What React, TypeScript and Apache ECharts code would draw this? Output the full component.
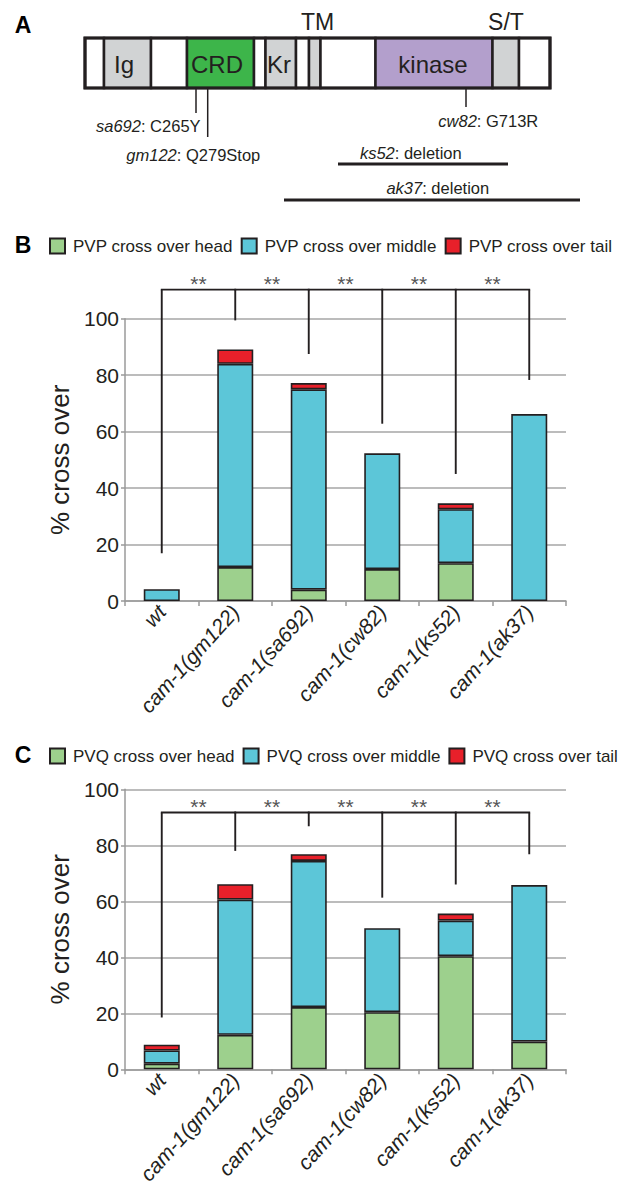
import React, { useEffect, useRef } from "react";
import * as echarts from "echarts";

// ---------- data ----------
const categories = ["wt", "cam-1(gm122)", "cam-1(sa692)", "cam-1(cw82)", "cam-1(ks52)", "cam-1(ak37)"];
const yTickInterval = 20;

const pvpHead = [0, 12, 4, 11.3, 13.4, 0];
const pvpMiddle = [4.2, 72, 71, 41, 19.1, 66.2];
const pvpTail = [0, 5.1, 2.2, 0, 2.1, 0];
const pvpN = [48, 61, 49, 61, 56, 56];
const pvpBracketDrop = [16.9, 99.4, 87.5, 62.8, 45, 78.3];
const pvpBracketTop = 110.3;

const pvqHead = [2, 12.3, 22.2, 20.4, 40.4, 9.9];
const pvqMiddle = [4.7, 48.3, 52.2, 30, 12.7, 55.9];
const pvqTail = [2.1, 5.5, 2.4, 0, 2.5, 0];
const pvqN = [43, 61, 46, 67, 55, 49];
const pvqBracketDrop = [18.5, 78, 86.8, 61.3, 66, 76.8];
const pvqBracketTop = 91.7;

const significance = ["**", "**", "**", "**", "**"];

const pvpNames = ["PVP cross over head", "PVP cross over middle", "PVP cross over tail"];
const pvqNames = ["PVQ cross over head", "PVQ cross over middle", "PVQ cross over tail"];

// protein domain diagram (panel A)
const domainLabels = ["", "Ig", "", "CRD", "", "Kr", "", "", "", "kinase", "", ""];
const domainKinds = ["none", "gray", "none", "crd", "none", "gray", "none", "gray", "none", "kinase", "gray", "none"];
const pointMutations = [
  { allele: "sa692", change: "C265Y" },
  { allele: "gm122", change: "Q279Stop" },
  { allele: "cw82", change: "G713R" },
];
const deletions = [
  { allele: "ks52", change: "deletion" },
  { allele: "ak37", change: "deletion" },
];

// ---------- styles / layout ----------
const FONT = "'Liberation Sans', Arial, Helvetica, sans-serif";
const INK = "#231f20";
const C_HEAD = "#9dd08d";
const C_MID = "#5cc6d8";
const C_TAIL = "#e8202a";
const GRID_GRAY = "#a6a6a6";
const AXIS_GRAY = "#9a9a9a";
const kindFill: Record<string, string> = {
  none: "#ffffff",
  gray: "#d1d3d4",
  crd: "#3db54a",
  kinase: "#b39fcc",
};
const domainEdges = [85, 104, 151, 187, 254, 265.5, 296, 309, 320.5, 375.5, 492.5, 519, 550];
const domainLabelX = [0, 124, 0, 217, 0, 279, 0, 0, 0, 433, 0, 0];
const boxTop = 38;
const boxBottom = 88;
const mutationLayout = [
  { x: 196, yEnd: 113, tx: 148.3, ty: 126 },
  { x: 207.7, yEnd: 137, tx: 193.3, ty: 154.5 },
  { x: 466, yEnd: 107, tx: 488.3, ty: 120.8 },
];
const deletionLayout = [
  { x1: 338, x2: 508, y: 164, tx: 410.8, ty: 153 },
  { x1: 284, x2: 580, y: 200, tx: 437.8, ty: 188 },
];

function sum3(a: number[], b: number[], c: number[]) {
  return a.map((v, i) => v + b[i] + c[i]);
}
const nz = (arr: number[]) => arr.map((v) => (v === 0 ? null : v));

function buildPanelGraphic() {
  const els: any[] = [];
  for (let i = 0; i < domainEdges.length - 1; i++) {
    els.push({
      type: "rect",
      shape: { x: domainEdges[i], y: boxTop, width: domainEdges[i + 1] - domainEdges[i], height: boxBottom - boxTop },
      style: { fill: kindFill[domainKinds[i]], stroke: INK, lineWidth: 2.5 },
    });
    if (domainLabels[i]) {
      els.push({
        type: "text",
        style: {
          text: domainLabels[i],
          x: domainLabelX[i],
          y: (boxTop + boxBottom) / 2 + 1,
          align: "center",
          verticalAlign: "middle",
          fontSize: 24,
          fontFamily: FONT,
          fill: INK,
        },
      });
    }
  }
  els.push({
    type: "rect",
    shape: { x: domainEdges[0], y: boxTop, width: domainEdges[domainEdges.length - 1] - domainEdges[0], height: boxBottom - boxTop },
    style: { fill: "none", stroke: INK, lineWidth: 3.2 },
  });
  els.push({ type: "text", style: { text: "TM", x: 317.5, y: 22, align: "center", verticalAlign: "middle", fontSize: 23, fontFamily: FONT, fill: INK } });
  els.push({ type: "text", style: { text: "S/T", x: 506, y: 22, align: "center", verticalAlign: "middle", fontSize: 23, fontFamily: FONT, fill: INK } });
  const letter = (t: string, y: number) => ({
    type: "text",
    style: { text: t, x: 23, y, align: "center", verticalAlign: "middle", fontSize: 23, fontWeight: "bold", fontFamily: FONT, fill: "#000" },
  });
  els.push(letter("A", 25));
  els.push(letter("B", 245));
  els.push(letter("C", 755));

  const rich = {
    i: { fontStyle: "italic", fontSize: 16.5, fontFamily: FONT, fill: INK },
    n: { fontSize: 16.5, fontFamily: FONT, fill: INK },
  };
  pointMutations.forEach((m, k) => {
    const L = mutationLayout[k];
    els.push({ type: "line", shape: { x1: L.x, y1: boxBottom, x2: L.x, y2: L.yEnd }, style: { stroke: INK, lineWidth: 1.5 } });
    els.push({
      type: "text",
      style: { text: `{i|${m.allele}}{n|: ${m.change}}`, rich, x: L.tx, y: L.ty, align: "center", verticalAlign: "middle", fontSize: 16.5, fontFamily: FONT },
    });
  });
  deletions.forEach((d, k) => {
    const L = deletionLayout[k];
    els.push({ type: "line", shape: { x1: L.x1, y1: L.y, x2: L.x2, y2: L.y }, style: { stroke: INK, lineWidth: 3 } });
    els.push({
      type: "text",
      style: { text: `{i|${d.allele}}{n|: ${d.change}}`, rich, x: L.tx, y: L.ty, align: "center", verticalAlign: "middle", fontSize: 16.5, fontFamily: FONT },
    });
  });
  return els;
}

function bracketSeries(idx: number, drops: number[], top: number) {
  return {
    type: "custom",
    xAxisIndex: idx,
    yAxisIndex: idx,
    silent: true,
    clip: false,
    z: 5,
    data: drops.map((d, i) => [i, d]),
    renderItem: (params: any, api: any) => {
      const i = params.dataIndex;
      const p0 = api.coord([i, top]);
      const p1 = api.coord([i, api.value(1)]);
      const children: any[] = [
        { type: "line", shape: { x1: p0[0], y1: p0[1], x2: p1[0], y2: p1[1] }, style: { stroke: INK, lineWidth: 1.9 } },
      ];
      if (i < drops.length - 1) {
        const q = api.coord([i + 1, top]);
        children.push({ type: "line", shape: { x1: p0[0] - 0.9, y1: p0[1], x2: q[0] + 0.9, y2: q[1] }, style: { stroke: INK, lineWidth: 1.9 } });
        children.push({
          type: "text",
          style: {
            text: significance[i],
            x: (p0[0] + q[0]) / 2,
            y: p0[1] - 6.5,
            align: "center",
            verticalAlign: "middle",
            fontSize: 21,
            fontFamily: FONT,
            fill: "#555555",
          },
        });
      }
      return { type: "group", children };
    },
  };
}

function barSeries(idx: number, names: string[], head: number[], mid: number[], tail: number[]) {
  const cols = [C_HEAD, C_MID, C_TAIL];
  return [head, mid, tail].map((arr, k) => ({
    name: names[k],
    type: "bar",
    stack: "s" + idx,
    xAxisIndex: idx,
    yAxisIndex: idx,
    barWidth: 36,
    data: nz(arr),
    itemStyle: { color: cols[k], borderColor: INK, borderWidth: 1.6 },
  }));
}

function nSeries(idx: number, totals: number[], ns: number[]) {
  return {
    type: "scatter",
    xAxisIndex: idx,
    yAxisIndex: idx,
    symbolSize: 1,
    itemStyle: { opacity: 0 },
    silent: true,
    data: totals,
    label: {
      show: true,
      position: "top",
      distance: 4,
      formatter: (p: any) => String(ns[p.dataIndex]),
      fontSize: 21,
      fontFamily: FONT,
      color: INK,
    },
  };
}

function xAxis(idx: number) {
  return {
    type: "category",
    gridIndex: idx,
    data: categories,
    axisLine: { lineStyle: { color: AXIS_GRAY, width: 1.5 } },
    axisTick: { show: true, length: 5, lineStyle: { color: AXIS_GRAY, width: 1.5 } },
    axisLabel: { rotate: 48, interval: 0, fontStyle: "italic", fontSize: 21, fontFamily: FONT, color: INK, margin: 7 },
  };
}

function yAxis(idx: number) {
  return {
    type: "value",
    gridIndex: idx,
    min: 0,
    max: 100,
    interval: yTickInterval,
    name: "% cross over",
    nameLocation: "middle",
    nameGap: 43,
    nameTextStyle: { fontSize: 26, fontFamily: FONT, color: INK },
    axisLine: { show: true, lineStyle: { color: AXIS_GRAY, width: 1.5 } },
    axisTick: { show: true, length: 4, lineStyle: { color: AXIS_GRAY, width: 1.5 } },
    axisLabel: { fontSize: 21, fontFamily: FONT, color: INK, margin: 6 },
    splitLine: { lineStyle: { color: GRID_GRAY, width: 1.5 } },
  };
}

function legend(names: string[], top: number) {
  return {
    data: names,
    left: 49,
    top,
    width: 573,
    padding: 0,
    orient: "horizontal",
    icon: "rect",
    itemWidth: 15,
    itemHeight: 15,
    itemGap: 8,
    selectedMode: false,
    textStyle: { fontSize: 17, fontFamily: FONT, color: INK, padding: [0, 0, 0, 3] },
  };
}

export default function App() {
  const ref = useRef<HTMLDivElement>(null);
  useEffect(() => {
    if (!ref.current) return;
    const chart = echarts.init(ref.current, undefined, { renderer: "svg" });
    const option = {
      animation: false,
      textStyle: { fontFamily: FONT },
      grid: [
        { left: 125, width: 441, top: 318.7, height: 282.3 },
        { left: 125, width: 441, top: 789.3, height: 283 },
      ],
      legend: [legend(pvpNames, 237.5), legend(pvqNames, 747.5)],
      xAxis: [xAxis(0), xAxis(1)],
      yAxis: [yAxis(0), yAxis(1)],
      graphic: buildPanelGraphic(),
      series: [
        ...barSeries(0, pvpNames, pvpHead, pvpMiddle, pvpTail),
        ...barSeries(1, pvqNames, pvqHead, pvqMiddle, pvqTail),
        nSeries(0, sum3(pvpHead, pvpMiddle, pvpTail), pvpN),
        nSeries(1, sum3(pvqHead, pvqMiddle, pvqTail), pvqN),
        bracketSeries(0, pvpBracketDrop, pvpBracketTop),
        bracketSeries(1, pvqBracketDrop, pvqBracketTop),
      ],
    };
    chart.setOption(option as any);
    return () => chart.dispose();
  }, []);
  return (
    <div
      ref={ref}
      style={{ position: "absolute", left: 0, top: 0, width: 622, height: 1187, background: "#fff" }}
    />
  );
}
